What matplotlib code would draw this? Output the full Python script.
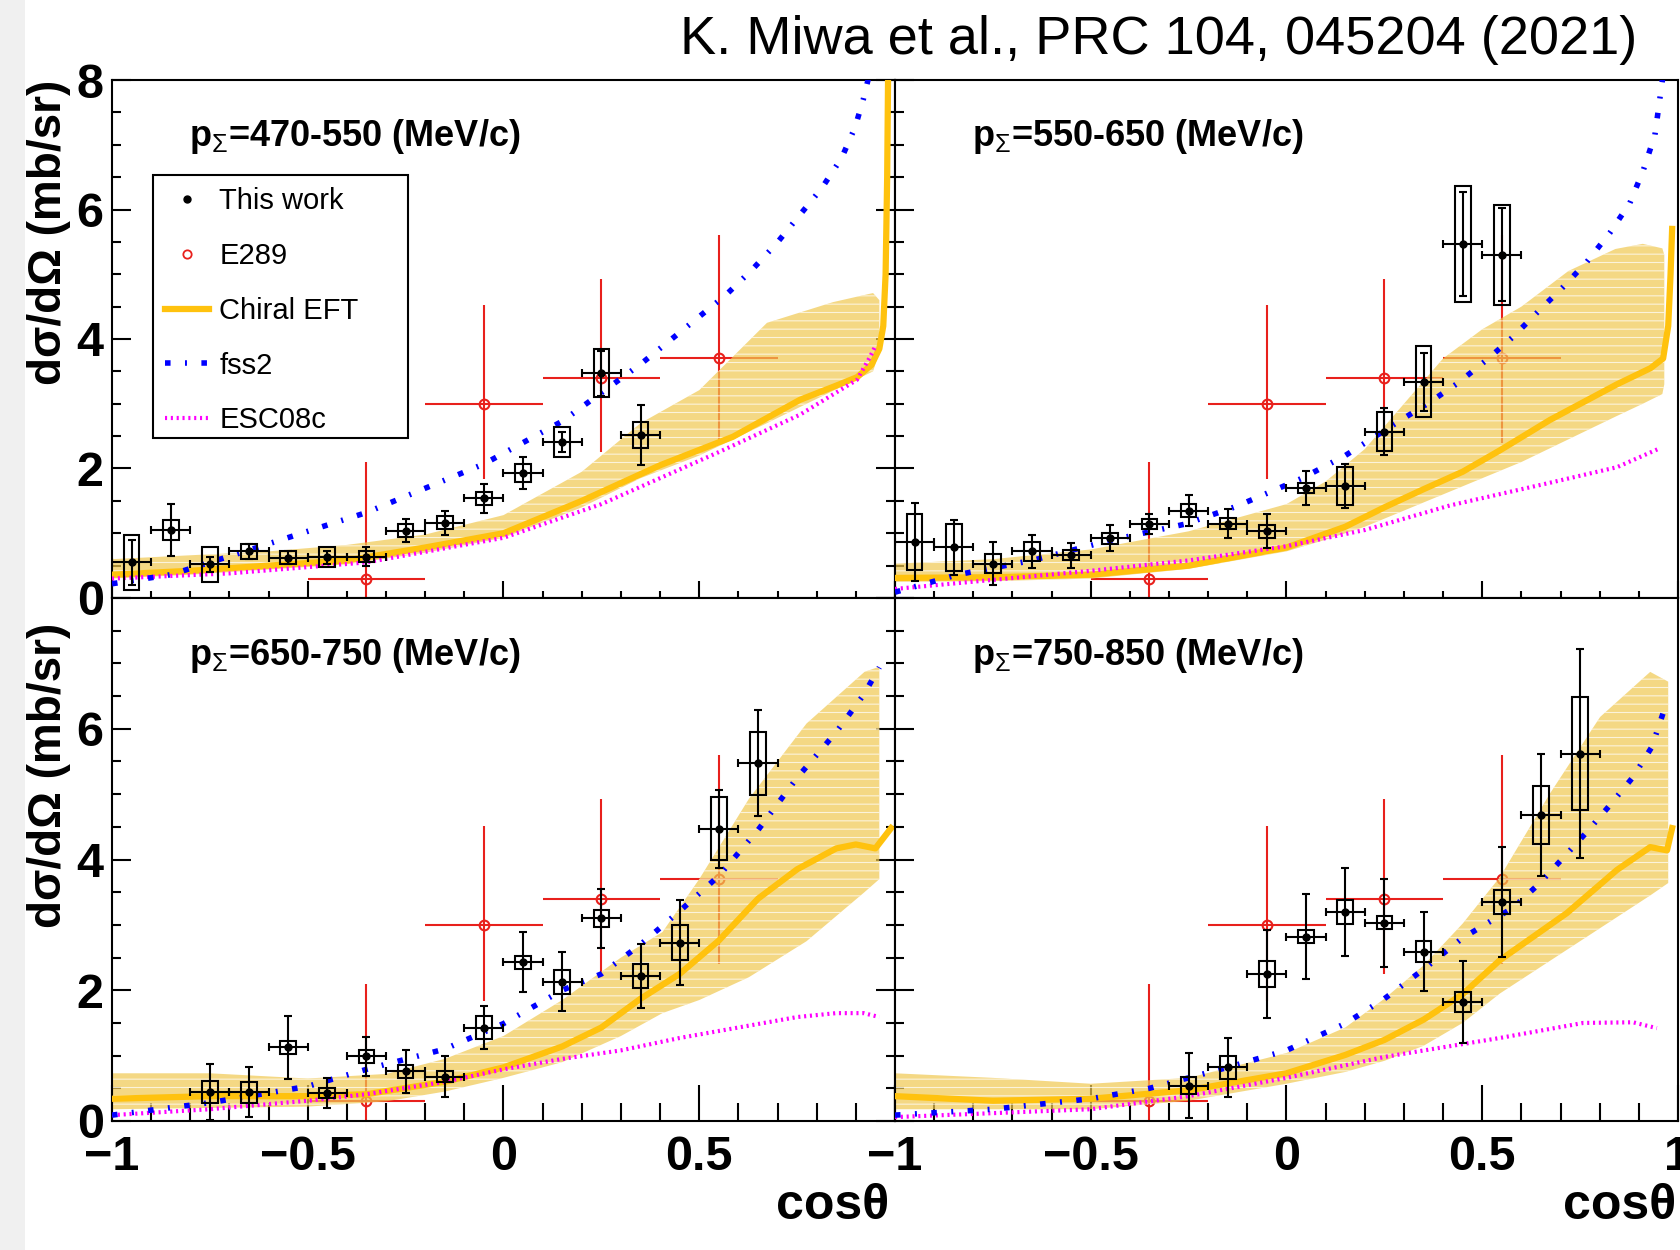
import matplotlib.pyplot as plt
from matplotlib.lines import Line2D
from matplotlib.patches import Rectangle
from matplotlib.ticker import MultipleLocator

plt.rcParams['font.family'] = ['Liberation Sans', 'DejaVu Sans']
plt.rcParams['mathtext.fontset'] = 'custom'
plt.rcParams['mathtext.rm'] = 'Liberation Sans'
plt.rcParams['mathtext.bf'] = 'Liberation Sans:bold'
plt.rcParams['hatch.linewidth'] = 0.8

# E289 data, same in every panel
e289_x = [-0.35, -0.05, 0.25, 0.55]
e289_y = [0.3, 3.0, 3.4, 3.7]
e289_xerr = [0.15, 0.15, 0.15, 0.15]
e289_ylo = [1.0, 1.16, 1.15, 1.3]
e289_yhi = [1.8, 1.52, 1.53, 1.9]

# p = 470-550 MeV/c
a_x = [-0.95, -0.85, -0.75, -0.65, -0.55, -0.45, -0.35, -0.25, -0.15, -0.05, 0.05, 0.15, 0.25, 0.35]
a_y = [0.55, 1.05, 0.52, 0.72, 0.62, 0.63, 0.64, 1.04, 1.16, 1.54, 1.93, 2.41, 3.47, 2.52]
a_stat = [0.35, 0.4, 0.12, 0.12, 0.1, 0.1, 0.15, 0.18, 0.19, 0.22, 0.24, 0.15, 0.35, 0.46]
a_syst = [0.42, 0.15, 0.27, 0.12, 0.1, 0.15, 0.08, 0.1, 0.1, 0.1, 0.14, 0.23, 0.37, 0.2]
a_eft_x = [-1, -0.8, -0.6, -0.4, -0.2, 0, 0.2, 0.4, 0.586, 0.757, 0.85, 0.903, 0.94, 0.96, 0.97, 0.976, 0.98, 0.983]
a_eft_y = [0.36, 0.42, 0.5, 0.58, 0.78, 1.0, 1.5, 2.05, 2.49, 3.06, 3.28, 3.41, 3.6, 3.85, 4.2, 5.0, 6.5, 8.5]
a_band_x = [-1, -0.8, -0.6, -0.4, -0.2, 0, 0.2, 0.35, 0.5, 0.673, 0.842, 0.944, 0.96]
a_band_lo = [0.3, 0.36, 0.44, 0.52, 0.7, 0.93, 1.4, 1.85, 2.2, 2.7, 3.2, 3.5, 3.8]
a_band_hi = [0.6, 0.66, 0.72, 0.82, 0.98, 1.28, 1.95, 2.7, 3.21, 4.25, 4.57, 4.71, 4.6]
a_fss2_x = [-1, -0.85, -0.65, -0.35, -0.05, 0.15, 0.25, 0.35, 0.45, 0.568, 0.635, 0.698, 0.752, 0.813, 0.864, 0.898, 0.919, 0.935]
a_fss2_y = [0.22, 0.36, 0.74, 1.32, 2.07, 2.73, 3.17, 3.61, 4.1, 4.68, 5.07, 5.48, 5.88, 6.33, 6.8, 7.27, 7.7, 8.1]
a_esc_x = [-1, -0.7, -0.35, 0, 0.25, 0.545, 0.757, 0.903, 0.936, 0.949]
a_esc_y = [0.3, 0.38, 0.55, 0.93, 1.45, 2.24, 2.83, 3.37, 3.72, 3.88]

# p = 550-650 MeV/c
b_x = [-0.95, -0.85, -0.75, -0.65, -0.55, -0.45, -0.35, -0.25, -0.15, -0.05, 0.05, 0.15, 0.25, 0.35, 0.45, 0.55]
b_y = [0.86, 0.78, 0.53, 0.72, 0.66, 0.92, 1.14, 1.35, 1.15, 1.03, 1.7, 1.73, 2.57, 3.34, 5.47, 5.3]
b_stat = [0.6, 0.42, 0.33, 0.26, 0.19, 0.2, 0.15, 0.24, 0.23, 0.26, 0.26, 0.34, 0.36, 0.45, 0.8, 0.72]
b_syst = [0.43, 0.37, 0.15, 0.15, 0.08, 0.08, 0.08, 0.1, 0.08, 0.1, 0.08, 0.29, 0.3, 0.55, 0.9, 0.77]
b_eft_x = [-1, -0.75, -0.5, -0.25, 0, 0.15, 0.25, 0.35, 0.45, 0.545, 0.673, 0.844, 0.93, 0.962, 0.975, 0.981, 0.985]
b_eft_y = [0.31, 0.32, 0.36, 0.5, 0.78, 1.1, 1.4, 1.68, 1.95, 2.28, 2.75, 3.3, 3.55, 3.7, 4.2, 5.0, 5.7]
b_band_x = [-1, -0.75, -0.5, -0.25, 0, 0.1, 0.2, 0.3, 0.4, 0.5, 0.6, 0.72, 0.84, 0.91, 0.96, 0.965]
b_band_lo = [0.25, 0.26, 0.3, 0.45, 0.72, 0.9, 1.1, 1.35, 1.6, 1.85, 2.1, 2.45, 2.8, 3.0, 3.15, 3.3]
b_band_hi = [0.53, 0.6, 0.75, 1.03, 1.45, 1.8, 2.3, 3.0, 3.7, 4.15, 4.5, 5.05, 5.39, 5.47, 5.4, 5.3]
b_fss2_x = [-1, -0.84, -0.65, -0.45, -0.26, -0.13, 0.04, 0.15, 0.29, 0.36, 0.438, 0.512, 0.578, 0.642, 0.706, 0.767, 0.826, 0.877, 0.911, 0.941, 0.959, 0.965]
b_fss2_y = [0.09, 0.36, 0.58, 0.89, 1.14, 1.41, 1.85, 2.2, 2.74, 3.0, 3.32, 3.68, 4.03, 4.42, 4.8, 5.19, 5.64, 6.1, 6.6, 7.15, 7.95, 8.2]
b_esc_x = [-1, -0.75, -0.5, -0.25, 0, 0.2, 0.418, 0.673, 0.844, 0.949]
b_esc_y = [0.14, 0.28, 0.42, 0.58, 0.8, 1.05, 1.43, 1.78, 2.02, 2.3]

# p = 650-750 MeV/c
c_x = [-0.75, -0.65, -0.55, -0.45, -0.35, -0.25, -0.15, -0.05, 0.05, 0.15, 0.25, 0.35, 0.45, 0.55, 0.65]
c_y = [0.44, 0.44, 1.13, 0.43, 0.99, 0.76, 0.68, 1.43, 2.43, 2.13, 3.1, 2.22, 2.73, 4.47, 5.47]
c_stat = [0.43, 0.38, 0.48, 0.23, 0.3, 0.33, 0.32, 0.33, 0.46, 0.45, 0.45, 0.49, 0.65, 0.6, 0.81]
c_syst = [0.17, 0.16, 0.1, 0.08, 0.1, 0.1, 0.08, 0.18, 0.1, 0.18, 0.13, 0.18, 0.27, 0.48, 0.48]
c_eft_x = [-1, -0.75, -0.5, -0.35, -0.15, 0, 0.15, 0.25, 0.35, 0.45, 0.55, 0.65, 0.75, 0.85, 0.9, 0.95, 0.99]
c_eft_y = [0.34, 0.38, 0.38, 0.41, 0.6, 0.82, 1.14, 1.43, 1.87, 2.25, 2.76, 3.4, 3.85, 4.17, 4.23, 4.17, 4.48]
c_band_x = [-1, -0.75, -0.5, -0.3, -0.15, 0, 0.15, 0.3, 0.406, 0.5, 0.627, 0.774, 0.922, 0.96]
c_band_lo = [0.18, 0.2, 0.22, 0.3, 0.45, 0.66, 0.9, 1.3, 1.65, 1.85, 2.2, 2.75, 3.5, 3.7]
c_band_hi = [0.73, 0.73, 0.65, 0.72, 0.95, 1.3, 1.85, 2.5, 2.89, 3.7, 4.93, 6.08, 6.87, 6.95]
c_fss2_x = [-1, -0.75, -0.5, -0.35, -0.15, 0, 0.15, 0.25, 0.35, 0.45, 0.55, 0.65, 0.75, 0.85, 0.92, 0.96]
c_fss2_y = [0.09, 0.28, 0.53, 0.79, 1.1, 1.49, 2.0, 2.25, 2.7, 3.21, 3.75, 4.45, 5.25, 5.95, 6.52, 6.94]
c_esc_x = [-1, -0.75, -0.5, -0.35, -0.15, 0, 0.15, 0.3, 0.45, 0.6, 0.75, 0.85, 0.92, 0.96]
c_esc_y = [0.09, 0.18, 0.31, 0.41, 0.6, 0.79, 0.95, 1.08, 1.27, 1.43, 1.59, 1.65, 1.65, 1.59]

# p = 750-850 MeV/c
d_x = [-0.25, -0.15, -0.05, 0.05, 0.15, 0.25, 0.35, 0.45, 0.55, 0.65, 0.75]
d_y = [0.54, 0.82, 2.25, 2.82, 3.2, 3.03, 2.59, 1.82, 3.35, 4.68, 5.62]
d_stat = [0.5, 0.45, 0.67, 0.65, 0.67, 0.67, 0.6, 0.62, 0.84, 0.94, 1.6]
d_syst = [0.13, 0.18, 0.2, 0.1, 0.18, 0.1, 0.16, 0.15, 0.19, 0.45, 0.87]
d_eft_x = [-1, -0.75, -0.5, -0.25, 0, 0.15, 0.25, 0.35, 0.45, 0.545, 0.716, 0.844, 0.929, 0.972, 0.985]
d_eft_y = [0.38, 0.31, 0.34, 0.47, 0.73, 1.01, 1.24, 1.55, 1.94, 2.46, 3.18, 3.84, 4.19, 4.14, 4.48]
d_band_x = [-1, -0.75, -0.5, -0.25, 0, 0.15, 0.25, 0.35, 0.45, 0.545, 0.673, 0.801, 0.929, 0.975]
d_band_lo = [0.18, 0.18, 0.18, 0.31, 0.57, 0.75, 0.92, 1.15, 1.5, 1.95, 2.45, 2.95, 3.45, 3.64]
d_band_hi = [0.73, 0.66, 0.57, 0.66, 1.04, 1.43, 1.87, 2.38, 3.02, 3.73, 5.01, 6.18, 6.87, 6.72]
d_fss2_x = [-1, -0.75, -0.5, -0.35, -0.25, -0.15, 0, 0.15, 0.25, 0.35, 0.45, 0.578, 0.642, 0.706, 0.767, 0.826, 0.885, 0.933, 0.962]
d_fss2_y = [0.09, 0.18, 0.34, 0.5, 0.66, 0.82, 1.08, 1.49, 1.87, 2.32, 2.8, 3.26, 3.61, 4.02, 4.42, 4.83, 5.26, 5.72, 6.24]
d_esc_x = [-1, -0.5, -0.25, 0, 0.25, 0.545, 0.758, 0.885, 0.946]
d_esc_y = [0.06, 0.18, 0.38, 0.66, 0.98, 1.27, 1.5, 1.51, 1.42]

labels = ['470-550', '550-650', '650-750', '750-850']

ORANGE = '#ffc20e'
BAND = '#f0c850'
BLUE = '#0000ff'
MAGENTA = '#ff00ff'
RED = '#e8201c'
FSS2_LS = (0, (1.0, 2.6, 0.35, 2.6))
ESC_LS = (0, (0.5, 0.9))


def draw_panel(ax, label, px, py, pstat, psyst, bx, blo, bhi, ex, ey, fx, fy, sx, sy):
    ax.errorbar(e289_x, e289_y, xerr=e289_xerr, yerr=[e289_ylo, e289_yhi], fmt='o',
                mfc='none', mec=RED, ecolor=RED, ms=7, mew=1.5, elinewidth=1.5, zorder=1)
    ax.fill_between(bx, blo, bhi, facecolor=BAND, edgecolor='white', hatch='--',
                    linewidth=0, alpha=0.7, zorder=2)
    ax.plot(ex, ey, color=ORANGE, lw=4.5, zorder=3)
    ax.plot(sx, sy, color=MAGENTA, lw=3, ls=ESC_LS, zorder=3)
    ax.plot(fx, fy, color=BLUE, lw=4, ls=FSS2_LS, zorder=4)
    for x, y, s in zip(px, py, psyst):
        ax.add_patch(Rectangle((x - 0.02, y - s), 0.04, 2 * s, fill=False,
                               ec='black', lw=1.5, zorder=5))
    ax.errorbar(px, py, xerr=0.05, yerr=pstat, fmt='o', color='black', ms=5,
                elinewidth=1.5, capsize=3, capthick=1.5, zorder=6)
    ax.text(0.098, 0.89, r'$\mathbf{p}_{\Sigma}$=' + label + ' (MeV/c)',
            transform=ax.transAxes, fontsize=26, fontweight='bold', va='center', zorder=9)


fig = plt.figure(figsize=(16.81, 12.5), dpi=100)
fig.patches.append(Rectangle((0, 0), 25 / 1681, 1, transform=fig.transFigure,
                             facecolor='#f0f0f0', edgecolor='none', zorder=-5))

L = 112 / 1681
W = 783 / 1681
ax_a = fig.add_axes([L, 1 - 598 / 1250, W, 518 / 1250])
ax_b = fig.add_axes([L + W, 1 - 598 / 1250, W, 518 / 1250])
ax_c = fig.add_axes([L, 1 - 1121 / 1250, W, 523 / 1250])
ax_d = fig.add_axes([L + W, 1 - 1121 / 1250, W, 523 / 1250])

draw_panel(ax_a, labels[0], a_x, a_y, a_stat, a_syst, a_band_x, a_band_lo, a_band_hi,
           a_eft_x, a_eft_y, a_fss2_x, a_fss2_y, a_esc_x, a_esc_y)
draw_panel(ax_b, labels[1], b_x, b_y, b_stat, b_syst, b_band_x, b_band_lo, b_band_hi,
           b_eft_x, b_eft_y, b_fss2_x, b_fss2_y, b_esc_x, b_esc_y)
draw_panel(ax_c, labels[2], c_x, c_y, c_stat, c_syst, c_band_x, c_band_lo, c_band_hi,
           c_eft_x, c_eft_y, c_fss2_x, c_fss2_y, c_esc_x, c_esc_y)
draw_panel(ax_d, labels[3], d_x, d_y, d_stat, d_syst, d_band_x, d_band_lo, d_band_hi,
           d_eft_x, d_eft_y, d_fss2_x, d_fss2_y, d_esc_x, d_esc_y)

for ax in [ax_a, ax_b, ax_c, ax_d]:
    ax.set_xlim(-1, 1)
    ax.set_ylim(0, 8)
    ax.xaxis.set_minor_locator(MultipleLocator(0.1))
    ax.yaxis.set_minor_locator(MultipleLocator(0.5))
    for s in ax.spines.values():
        s.set_linewidth(1.5)
    ax.tick_params(which='both', direction='in', top=False, width=1.5)
    ax.tick_params(axis='y', which='major', length=14, pad=6)
    ax.tick_params(axis='y', which='minor', length=6.5)

xt = [-1, -0.5, 0, 0.5, 1]
yt = [0, 2, 4, 6, 8]
tick_font = dict(fontsize=35, fontweight='bold')

for ax in [ax_a, ax_b]:
    ax.set_xticks(xt)
    ax.tick_params(axis='x', which='major', length=12, labelbottom=False)
    ax.tick_params(axis='x', which='minor', length=5)
for ax in [ax_c, ax_d]:
    ax.tick_params(axis='x', which='major', length=26, pad=10)
    ax.tick_params(axis='x', which='minor', length=13)

ax_c.set_xticks(xt, ['\u22121', '\u22120.5', '0', '0.5', ''], **tick_font)
ax_d.set_xticks(xt, ['\u22121', '\u22120.5', '0', '0.5', '1'], **tick_font)
ax_a.set_yticks(yt, ['0', '2', '4', '6', '8'], **tick_font)
ax_c.set_yticks(yt, ['0', '2', '4', '6', ''], **tick_font)
for ax in [ax_a, ax_c]:
    ax.tick_params(axis='y', which='both', right=True)
for ax in [ax_b, ax_d]:
    ax.set_yticks(yt)
    ax.tick_params(axis='y', which='both', labelleft=False, right=False)

# legend
handles = [
    Line2D([], [], ls='none', marker='o', color='black', ms=5),
    Line2D([], [], ls='none', marker='o', mfc='none', mec=RED, ms=6, mew=1.3),
    Line2D([], [], color=ORANGE, lw=4.5),
    Line2D([], [], color=BLUE, lw=4, ls=FSS2_LS),
    Line2D([], [], color=MAGENTA, lw=3, ls=ESC_LS),
]
names = ['This work', 'E289', 'Chiral EFT', 'fss2', 'ESC08c']
ax_a.add_patch(Rectangle((0.0524, 0.309), 0.3257, 0.508, transform=ax_a.transAxes,
                         facecolor='white', edgecolor='black', lw=1.5, zorder=7))
leg = ax_a.legend(handles, names, loc='upper left', bbox_to_anchor=(0.0524, 0.817),
                  frameon=False, fontsize=21, handlelength=1.5, handletextpad=0.35,
                  labelspacing=0.92, borderpad=0.42, borderaxespad=0)
leg.set_zorder(8)

# axis titles
ylab = 'd\u03c3/d\u03a9 (mb/sr)'
fig.text(49 / 1681, 1 - 80 / 1250, ylab, rotation=90, ha='center', va='top',
         fontsize=33, fontweight='bold')
fig.text(49 / 1681, 1 - 623 / 1250, ylab, rotation=90, ha='center', va='top',
         fontsize=33, fontweight='bold')
fig.text(889 / 1681, 1 - 1206 / 1250, 'cos\u03b8', ha='right', va='center',
         fontsize=36, fontweight='bold')
fig.text(1676 / 1681, 1 - 1206 / 1250, 'cos\u03b8', ha='right', va='center',
         fontsize=36, fontweight='bold')

fig.text(1637 / 1681, 1 - 40 / 1250, 'K. Miwa et al., PRC 104, 045204 (2021)',
         ha='right', va='center', fontsize=39)

fig.savefig('out.png', dpi=100)
